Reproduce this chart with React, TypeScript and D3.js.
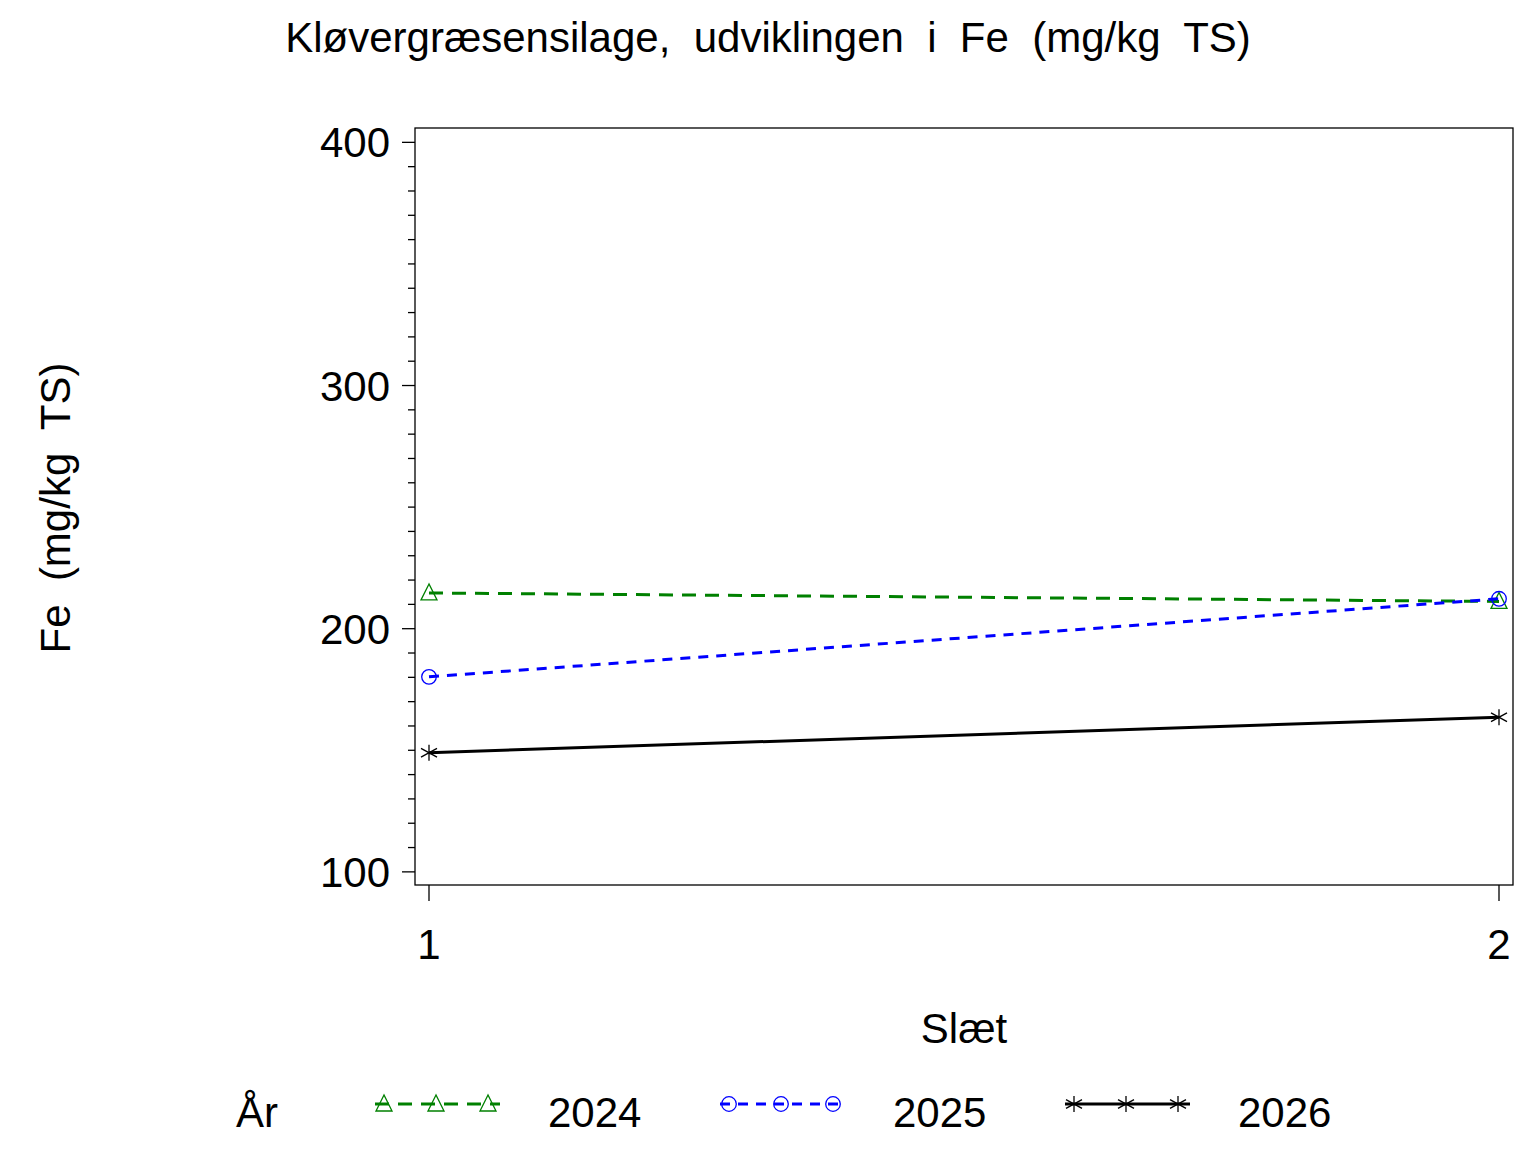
import React from "react";
import * as d3 from "d3";

const slaet = [1, 2];
const years = ["2024", "2025", "2026"];
const fe2024 = [214.7, 211.2];
const fe2025 = [180.2, 212.3];
const fe2026 = [149.0, 163.6];
const yMajorTicks = [100, 200, 300, 400];
const yMinorTicks = d3.range(110, 400, 10).filter((v) => v % 100 !== 0);
const xTicks = [1, 2];

const titleText = "Kløvergræsensilage,  udviklingen  i  Fe  (mg/kg  TS)";
const yLabelText = "Fe  (mg/kg  TS)";
const xLabelText = "Slæt";
const legendTitle = "År";

const seriesValues = [fe2024, fe2025, fe2026];
const colors = ["#008000", "#0000ff", "#000000"];
const dashes = ["14,9", "10,8", "none"];
const markers = ["triangle", "circle", "star"];

const FONT = "'Liberation Sans', Arial, Helvetica, sans-serif";

const W = 1536;
const H = 1152;
const plot = { left: 415, right: 1513, top: 128, bottom: 885 };

function Marker({ type, x, y, color }: { type: string; x: number; y: number; color: string }) {
  if (type === "triangle") {
    const p = `${x},${y - 9} ${x - 8},${y + 7} ${x + 8},${y + 7}`;
    return <polygon points={p} fill="none" stroke={color} strokeWidth={1.3} />;
  }
  if (type === "circle") {
    return <circle cx={x} cy={y} r={7.3} fill="none" stroke={color} strokeWidth={1.3} />;
  }
  const s = 8;
  return (
    <g stroke={color} strokeWidth={1.3}>
      <line x1={x} y1={y - s} x2={x} y2={y + s} />
      <line x1={x - s} y1={y - s * 0.55} x2={x + s} y2={y + s * 0.55} />
      <line x1={x - s} y1={y + s * 0.55} x2={x + s} y2={y - s * 0.55} />
    </g>
  );
}

export default function App() {
  const x = d3.scaleLinear().domain([1, 2]).range([429, 1499]);
  const y = d3.scaleLinear().domain([94.6, 405.9]).range([plot.bottom, plot.top]);
  const line = d3
    .line<[number, number]>()
    .x((d) => x(d[0]))
    .y((d) => y(d[1]));

  const legendX = (i: number) => 372 + i * 345;
  const legendY = 1104;

  return (
    <svg
      width={W}
      height={H}
      viewBox={`0 0 ${W} ${H}`}
      style={{ position: "absolute", left: 0, top: 0, background: "#fff" }}
      fontFamily={FONT}
    >
      <rect x={0} y={0} width={W} height={H} fill="#fff" />
      <text x={768} y={52} fontSize={42} textAnchor="middle" style={{ whiteSpace: "pre" }} fill="#000">
        {titleText}
      </text>

      {/* frame */}
      <rect
        x={plot.left}
        y={plot.top}
        width={plot.right - plot.left}
        height={plot.bottom - plot.top}
        fill="none"
        stroke="#000"
        strokeWidth={1.3}
      />

      {/* y ticks */}
      {yMajorTicks.map((v) => (
        <g key={"ym" + v}>
          <line x1={plot.left - 13} x2={plot.left} y1={y(v)} y2={y(v)} stroke="#000" strokeWidth={1.3} />
          <text x={390} y={y(v) + 15} fontSize={42} textAnchor="end" fill="#000">
            {v}
          </text>
        </g>
      ))}
      {yMinorTicks.map((v) => (
        <line key={"yn" + v} x1={plot.left - 7} x2={plot.left} y1={y(v)} y2={y(v)} stroke="#000" strokeWidth={1.3} />
      ))}

      {/* x ticks */}
      {xTicks.map((v) => (
        <g key={"x" + v}>
          <line x1={x(v)} x2={x(v)} y1={plot.bottom} y2={plot.bottom + 16} stroke="#000" strokeWidth={1.3} />
          <text x={x(v)} y={959} fontSize={42} textAnchor="middle" fill="#000">
            {v}
          </text>
        </g>
      ))}

      {/* axis labels */}
      <text
        transform={`translate(70,508) rotate(-90)`}
        fontSize={42}
        textAnchor="middle"
        style={{ whiteSpace: "pre" }}
        fill="#000"
      >
        {yLabelText}
      </text>
      <text x={964} y={1043} fontSize={42} textAnchor="middle" fill="#000">
        {xLabelText}
      </text>

      {/* series */}
      {seriesValues.map((vals, i) => {
        const pts = slaet.map((s, j) => [s, vals[j]] as [number, number]);
        return (
          <g key={"s" + i}>
            <path
              d={line(pts) || ""}
              fill="none"
              stroke={colors[i]}
              strokeWidth={3}
              strokeDasharray={dashes[i]}
            />
            {pts.map((p, j) => (
              <Marker key={j} type={markers[i]} x={x(p[0])} y={y(p[1])} color={colors[i]} />
            ))}
          </g>
        );
      })}

      {/* legend */}
      <text x={236} y={1127} fontSize={42} fill="#000">
        {legendTitle}
      </text>
      {years.map((yr, i) => {
        const lx = legendX(i);
        return (
          <g key={"l" + yr}>
            <line
              x1={lx + 3}
              x2={lx + 128}
              y1={legendY}
              y2={legendY}
              stroke={colors[i]}
              strokeWidth={3}
              strokeDasharray={dashes[i]}
            />
            {[12, 64, 116].map((o) => (
              <Marker key={o} type={markers[i]} x={lx + o} y={legendY} color={colors[i]} />
            ))}
            <text x={lx + 176} y={1127} fontSize={42} fill="#000">
              {yr}
            </text>
          </g>
        );
      })}
    </svg>
  );
}
